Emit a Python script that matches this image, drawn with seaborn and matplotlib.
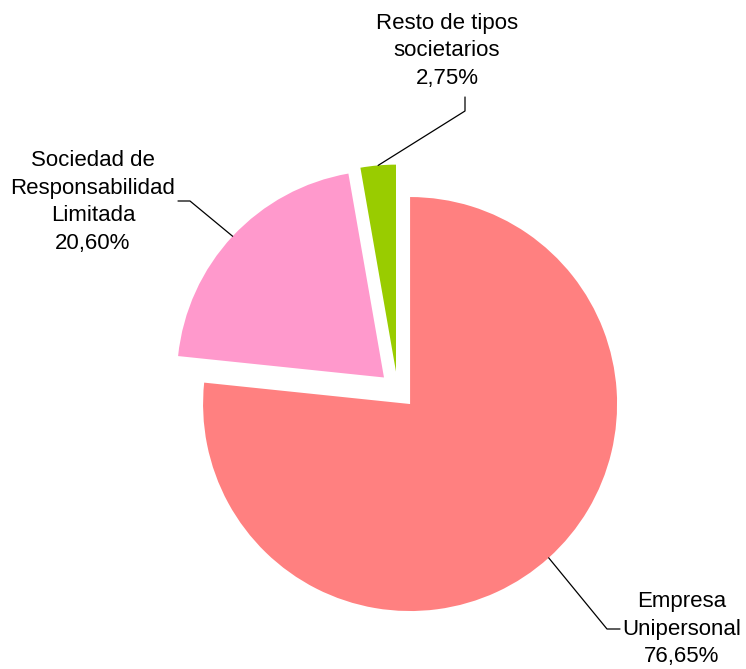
import numpy as np
import matplotlib
matplotlib.use("Agg")
import matplotlib.pyplot as plt
import seaborn as sns

# datos: distribución por tipo societario
categorias = ["Empresa\nUnipersonal", "Sociedad de\nResponsabilidad\nLimitada", "Resto de tipos\nsocietarios"]
porcentajes = [76.65, 20.60, 2.75]
colores = ["#FF8080", "#FF99CC", "#99CC00"]

sns.set_style("white")
plt.rcParams["font.family"] = ["Liberation Sans", "DejaVu Sans"]

W, H = 746, 669
fig = plt.figure(figsize=(W / 100, H / 100), dpi=100)
ax = fig.add_axes([0, 0, 1, 1])

R = 207
sep = 0.09 * R  # en matplotlib el explode va en unidades de datos
wedges, _ = ax.pie(porcentajes, colors=colores, startangle=90, counterclock=False,
                   explode=[sep, sep, sep], radius=R, center=(397.6, H - 390.2),
                   wedgeprops=dict(linewidth=0), frame=True)
ax.set_xlim(0, W)
ax.set_ylim(0, H)
ax.axis("off")

# posiciones de las etiquetas (en pixeles, y desde arriba) y codos de las lineas guia
texto_pos = [(682, 629), (93, 202), (447, 51)]
codos = [[(607, 629), (620, 629)], [(190, 201), (178, 201)], [(465, 111), (465, 97)]]

for w, cat, pct, tp, cd in zip(wedges, categorias, porcentajes, texto_pos, codos):
    ang = np.deg2rad((w.theta1 + w.theta2) / 2)
    ax0 = w.center[0] + w.r * np.cos(ang)
    ay0 = w.center[1] + w.r * np.sin(ang)
    xs = [ax0] + [c[0] for c in cd]
    ys = [ay0] + [H - c[1] for c in cd]
    ax.plot(xs, ys, color="black", lw=0.9)
    etiqueta = f"{cat}\n{pct:.2f}%".replace(".", ",")
    ax.text(tp[0], H - tp[1], etiqueta, ha="center", va="center", multialignment="center",
            fontsize=16, linespacing=1.4, color="black")

fig.savefig("out.png", dpi=100)
